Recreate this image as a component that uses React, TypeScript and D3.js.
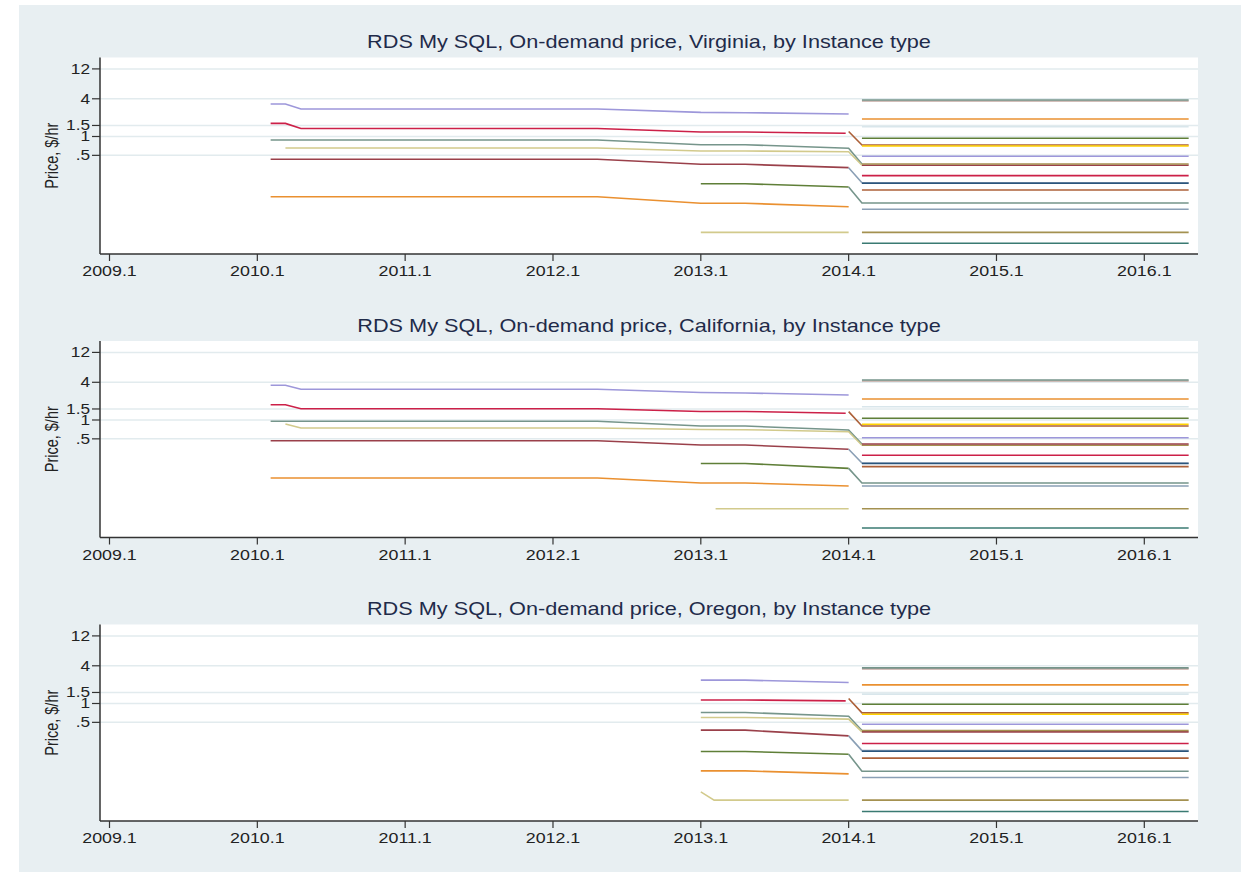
import React from 'react'
import * as d3 from 'd3'

// Stata s2color palette, slightly washed out like the export
const palette: Record<string, string> = {
  navy: '#2a557c',
  maroon: '#9a404a',
  forest_green: '#5f7f38',
  dkorange: '#ea9030',
  teal: '#76958b',
  cranberry: '#cc2048',
  lavender: '#9d97da',
  khaki: '#d2ca8c',
  sienna: '#ac6038',
  emidblue: '#8a9fb5',
  emerald: '#3a7a72',
  brown: '#a49150',
  erose: '#c4a8a2',
  gold: '#ffd200',
  bluishgray: '#d9e6eb',
}

const regions = ['Virginia', 'California', 'Oregon']

const xTicks = [2009, 2010, 2011, 2012, 2013, 2014, 2015, 2016]
const xTickLabels = ['2009.1', '2010.1', '2011.1', '2012.1', '2013.1', '2014.1', '2015.1', '2016.1']
const yTicks = [12, 4, 1.5, 1, 0.5]
const yTickLabels = ['12', '4', '1.5', '1', '.5']

// dates (decimal years)
const cutover = 2014.0
const newGenStart = 2014.09
const lastDate = 2016.3

type Old = { p: string; pts: [number, number][] }
type New = { p: string; v: number; from?: number }

// previous-generation instance types, $/hr
const virginiaOld: Old[] = [
  { p: 'lavender', pts: [[2010.09, 3.3], [2010.19, 3.3], [2010.295, 2.75], [2012.3, 2.75], [2013.0, 2.43], [2013.3, 2.4], [2014.0, 2.29]] },
  { p: 'cranberry', pts: [[2010.09, 1.62], [2010.19, 1.62], [2010.295, 1.34], [2012.3, 1.34], [2013.0, 1.18], [2013.3, 1.18], [2013.98, 1.125]] },
  { p: 'teal', pts: [[2010.09, 0.879], [2012.3, 0.879], [2013.0, 0.74], [2013.3, 0.74], [2014.0, 0.648], [2014.09, 0.364]] },
  { p: 'khaki', pts: [[2010.19, 0.655], [2012.3, 0.655], [2013.0, 0.587], [2013.3, 0.587], [2014.0, 0.572], [2014.09, 0.347]] },
  { p: 'maroon', pts: [[2010.09, 0.434], [2012.3, 0.434], [2013.0, 0.36], [2013.3, 0.36], [2014.0, 0.318]] },
  { p: 'dkorange', pts: [[2010.09, 0.109], [2012.3, 0.109], [2013.0, 0.0858], [2013.3, 0.0858], [2014.0, 0.0757]] },
  { p: 'forest_green', pts: [[2013.0, 0.176], [2013.3, 0.176], [2014.0, 0.156]] },
  { p: 'khaki', pts: [[2013.0, 0.0295], [2014.0, 0.0295]] },
]

const californiaOld: Old[] = [
  { p: 'lavender', pts: [[2010.09, 3.58], [2010.19, 3.58], [2010.295, 3.09], [2012.3, 3.09], [2013.0, 2.75], [2013.3, 2.7], [2014.0, 2.51]] },
  { p: 'cranberry', pts: [[2010.09, 1.755], [2010.19, 1.755], [2010.295, 1.51], [2012.3, 1.51], [2013.0, 1.37], [2013.3, 1.37], [2013.98, 1.28]] },
  { p: 'teal', pts: [[2010.09, 0.953], [2012.3, 0.953], [2013.0, 0.802], [2013.3, 0.8], [2014.0, 0.692], [2014.09, 0.414]] },
  { p: 'khaki', pts: [[2010.19, 0.863], [2010.295, 0.745], [2012.3, 0.745], [2013.0, 0.705], [2013.3, 0.7], [2014.0, 0.65], [2014.09, 0.395]] },
  { p: 'maroon', pts: [[2010.09, 0.467], [2012.3, 0.467], [2013.0, 0.399], [2013.3, 0.399], [2014.0, 0.341]] },
  { p: 'dkorange', pts: [[2010.09, 0.1186], [2012.3, 0.1186], [2013.0, 0.0987], [2013.3, 0.0987], [2014.0, 0.0884]] },
  { p: 'forest_green', pts: [[2013.0, 0.202], [2013.3, 0.202], [2014.0, 0.169]] },
  { p: 'khaki', pts: [[2013.1, 0.0383], [2014.0, 0.0383]] },
]

const oregonOld: Old[] = [
  { p: 'lavender', pts: [[2013.0, 2.36], [2013.3, 2.36], [2014.0, 2.16]] },
  { p: 'cranberry', pts: [[2013.0, 1.14], [2013.3, 1.14], [2013.98, 1.1]] },
  { p: 'teal', pts: [[2013.0, 0.718], [2013.3, 0.718], [2014.0, 0.627], [2014.09, 0.371]] },
  { p: 'khaki', pts: [[2013.0, 0.598], [2013.3, 0.598], [2014.0, 0.562], [2014.09, 0.352]] },
  { p: 'maroon', pts: [[2013.0, 0.375], [2013.3, 0.375], [2014.0, 0.304]] },
  { p: 'forest_green', pts: [[2013.0, 0.171], [2013.3, 0.171], [2014.0, 0.155]] },
  { p: 'dkorange', pts: [[2013.0, 0.0839], [2013.3, 0.0839], [2014.0, 0.0751]] },
  { p: 'khaki', pts: [[2013.0, 0.0388], [2013.09, 0.0286], [2014.0, 0.0286]] },
]

// current-generation instance types, flat from 2014.1 on ($/hr)
const virginiaNew: New[] = [
  { p: 'erose', v: 3.69 },
  { p: 'teal', v: 3.83 },
  { p: 'dkorange', v: 1.9 },
  { p: 'bluishgray', v: 1.43 },
  { p: 'forest_green', v: 0.936 },
  { p: 'sienna', v: 0.732, from: 1.2 },
  { p: 'gold', v: 0.705 },
  { p: 'lavender', v: 0.483 },
  { p: 'maroon', v: 0.347 },
  { p: 'brown', v: 0.364 },
  { p: 'cranberry', v: 0.237 },
  { p: 'emidblue', v: 0.183, from: 0.318 },
  { p: 'navy', v: 0.179 },
  { p: 'sienna', v: 0.14 },
  { p: 'teal', v: 0.0867, from: 0.156 },
  { p: 'emidblue', v: 0.0688 },
  { p: 'brown', v: 0.0295 },
  { p: 'emerald', v: 0.0197 },
]

const californiaNew: New[] = [
  { p: 'erose', v: 4.19 },
  { p: 'teal', v: 4.35 },
  { p: 'dkorange', v: 2.16 },
  { p: 'bluishgray', v: 1.63 },
  { p: 'forest_green', v: 1.064 },
  { p: 'sienna', v: 0.802, from: 1.36 },
  { p: 'gold', v: 0.854 },
  { p: 'lavender', v: 0.522 },
  { p: 'brown', v: 0.395 },
  { p: 'maroon', v: 0.414 },
  { p: 'cranberry', v: 0.273 },
  { p: 'emidblue', v: 0.206, from: 0.341 },
  { p: 'navy', v: 0.202 },
  { p: 'sienna', v: 0.18 },
  { p: 'teal', v: 0.0987, from: 0.169 },
  { p: 'emidblue', v: 0.0884 },
  { p: 'brown', v: 0.0383 },
  { p: 'emerald', v: 0.0189 },
]

const oregonNew: New[] = [
  { p: 'erose', v: 3.57 },
  { p: 'teal', v: 3.7 },
  { p: 'dkorange', v: 1.98 },
  { p: 'bluishgray', v: 1.41 },
  { p: 'forest_green', v: 0.975 },
  { p: 'sienna', v: 0.708, from: 1.2 },
  { p: 'gold', v: 0.675 },
  { p: 'lavender', v: 0.467 },
  { p: 'maroon', v: 0.352 },
  { p: 'brown', v: 0.371 },
  { p: 'cranberry', v: 0.23 },
  { p: 'emidblue', v: 0.177, from: 0.304 },
  { p: 'navy', v: 0.173 },
  { p: 'sienna', v: 0.134 },
  { p: 'teal', v: 0.083, from: 0.155 },
  { p: 'emidblue', v: 0.0658 },
  { p: 'brown', v: 0.0286 },
  { p: 'emerald', v: 0.0189 },
]

const oldByRegion = [virginiaOld, californiaOld, oregonOld]
const newByRegion = [virginiaNew, californiaNew, oregonNew]

const FONT = '"Liberation Sans", Arial, Helvetica, sans-serif'
const plotLeft = 100
const plotRight = 1198
const plotH = 196.5
const bottoms = [254, 537.5, 821]
// the exported raster is a bit wider than tall, so text is stretched sideways
const stretch = 1.23

const x = d3.scaleLinear().domain([2009, 2016]).range([109.5, 1144.3])

function Panel({ idx }: { idx: number }) {
  const bottom = bottoms[idx]
  const top = bottom - plotH
  const y = d3.scaleLog().domain([0.0133, 18.25]).range([bottom, top])
  const line = d3.line<[number, number]>()
    .x((d) => x(d[0]))
    .y((d) => y(d[1]))

  const newSeries = newByRegion[idx].map((s) => {
    const pts: [number, number][] = []
    if (s.from !== undefined) pts.push([cutover, s.from])
    pts.push([newGenStart, s.v], [lastDate, s.v])
    return { p: s.p, pts }
  })

  return (
    <g>
      <rect x={plotLeft} y={top} width={plotRight - plotLeft} height={plotH} fill="#fff" />
      {yTicks.map((t) => (
        <line key={t} x1={plotLeft} x2={plotRight} y1={y(t)} y2={y(t)} stroke="#e2ebee" strokeWidth={1.5} />
      ))}
      {oldByRegion[idx].map((s, i) => (
        <path key={'o' + i} d={line(s.pts) || ''} fill="none" stroke={palette[s.p]} strokeWidth={1.6} />
      ))}
      {newSeries.map((s, i) => (
        <path key={'n' + i} d={line(s.pts) || ''} fill="none" stroke={palette[s.p]} strokeWidth={1.6} />
      ))}
      <line x1={plotLeft} x2={plotLeft} y1={top} y2={bottom} stroke="#333" strokeWidth={1.5} />
      <line x1={plotLeft} x2={plotRight} y1={bottom} y2={bottom} stroke="#333" strokeWidth={1.5} />
      {yTicks.map((t, i) => (
        <g key={t}>
          <line x1={plotLeft - 8} x2={plotLeft} y1={y(t)} y2={y(t)} stroke="#333" strokeWidth={1.2} />
          <text
            transform={`translate(${plotLeft - 10}, ${y(t)}) scale(${stretch}, 1)`}
            dy="0.35em"
            textAnchor="end"
            fontSize={14}
            fill="#222"
            fontFamily={FONT}
          >
            {yTickLabels[i]}
          </text>
        </g>
      ))}
      {xTicks.map((t, i) => (
        <g key={t}>
          <line x1={x(t)} x2={x(t)} y1={bottom} y2={bottom + 7} stroke="#333" strokeWidth={1.2} />
          <text
            transform={`translate(${x(t)}, ${bottom + 22}) scale(${stretch}, 1)`}
            textAnchor="middle"
            fontSize={14.5}
            fill="#222"
            fontFamily={FONT}
          >
            {xTickLabels[i]}
          </text>
        </g>
      ))}
      <text
        transform={`translate(58, ${(top + bottom) / 2}) rotate(-90) scale(1, ${stretch})`}
        textAnchor="middle"
        fontSize={14.5}
        fill="#222"
        fontFamily={FONT}
      >
        Price, $/hr
      </text>
      <text
        transform={`translate(${(plotLeft + plotRight) / 2}, ${top - 9.5}) scale(1.24, 1)`}
        textAnchor="middle"
        fontSize={17.5}
        fill="#1f2b4a"
        fontFamily={FONT}
      >
        {`RDS My SQL, On-demand price, ${regions[idx]}, by Instance type`}
      </text>
    </g>
  )
}

export default function App() {
  return (
    <svg width={1241} height={872} style={{ position: 'absolute', left: 0, top: 0, background: '#fff' }}>
      <rect x={19} y={5} width={1222} height={867} fill="#e8eff2" />
      {regions.map((r, i) => (
        <Panel key={r} idx={i} />
      ))}
    </svg>
  )
}
